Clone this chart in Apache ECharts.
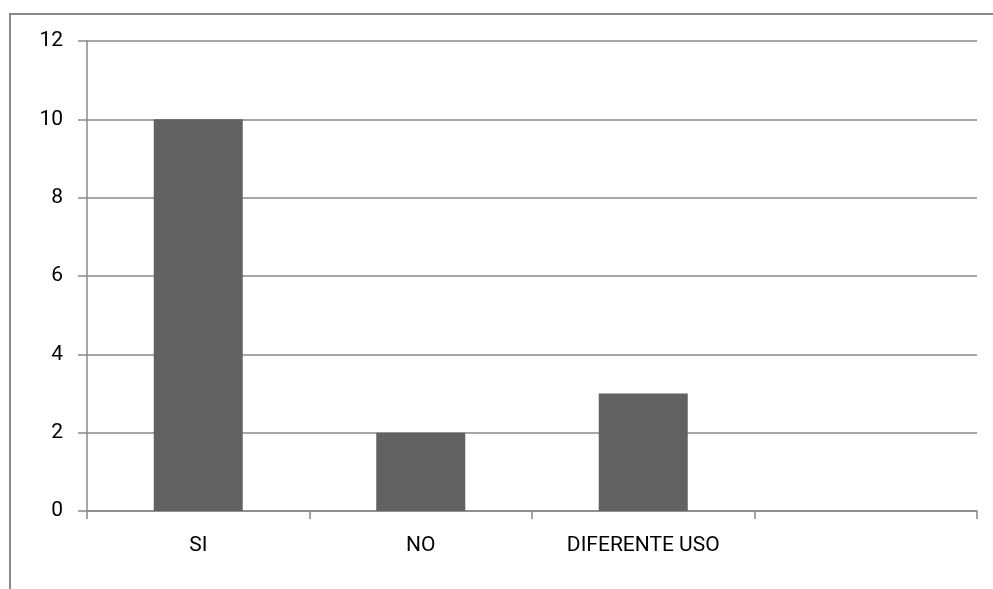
<!DOCTYPE html>
<html><head><meta charset="utf-8">
<script src="https://cdn.jsdelivr.net/npm/echarts@6/dist/echarts.min.js"></script>
<style>
html,body{margin:0;padding:0;background:#fff;}
#frame{position:absolute;left:9px;top:13px;width:990px;height:590px;border-top:2px solid #888;border-left:2px solid #888;}
#c{position:absolute;left:0;top:0;width:993px;height:589px;}
</style></head>
<body><div id="frame"></div><div id="c"></div>
<script>
const categories = ['SI', 'NO', 'DIFERENTE USO', ''];
const values = [10, 2, 3, null];
const yTicks = {min: 0, max: 12, interval: 2};

const chart = echarts.init(document.getElementById('c'));
const font = 'Roboto';
chart.setOption({
  animation: false,
  grid: {left: 87, right: 16, top: 41, bottom: 78},
  xAxis: {
    type: 'category', data: categories,
    axisLine: {lineStyle: {color: '#888', width: 1.5}},
    axisTick: {show: true, length: 8, alignWithLabel: false, lineStyle: {color: '#888', width: 1.5}},
    axisLabel: {color: '#000', fontFamily: font, fontSize: 21, margin: 24}
  },
  yAxis: {
    type: 'value', min: yTicks.min, max: yTicks.max, interval: yTicks.interval,
    axisLine: {show: true, lineStyle: {color: '#888', width: 1.5}},
    axisTick: {show: true, length: 9, lineStyle: {color: '#888', width: 1.5}},
    axisLabel: {color: '#000', fontFamily: font, fontSize: 21, margin: 24},
    splitLine: {lineStyle: {color: '#888', width: 1.5}}
  },
  series: [{
    type: 'bar', data: values, barCategoryGap: '60%',
    itemStyle: {color: '#626262'}
  }]
});
</script></body></html>
